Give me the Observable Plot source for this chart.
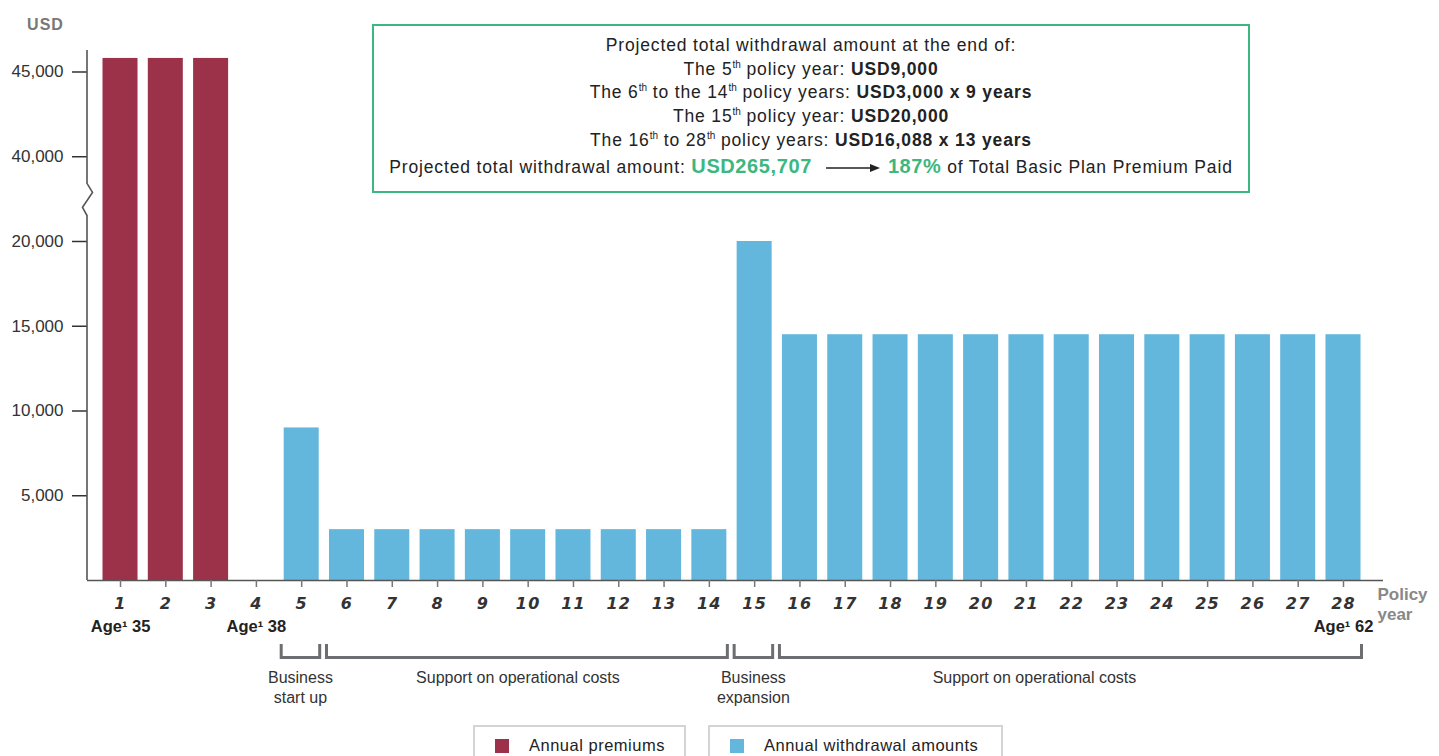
<!DOCTYPE html>
<html>
<head>
<meta charset="utf-8">
<script src="https://cdn.jsdelivr.net/npm/d3@7"></script>
<script src="https://cdn.jsdelivr.net/npm/@observablehq/plot@0.6"></script>
<style>
  html, body { margin: 0; padding: 0; background: #fff; }
  body { width: 1439px; height: 756px; position: relative; overflow: hidden; font-family: "Liberation Sans", Arial, sans-serif; color: #222; }
  #chart { position: absolute; left: 0; top: 0; }
  #box { position: absolute; left: 372px; top: 24px; width: 874px; height: 157px; border: 2px solid #3cb77f; text-align: center; font-size: 17.5px; letter-spacing: 0.85px; line-height: 23.7px; padding-top: 8px; box-sizing: content-box; white-space: nowrap; }
  #box b { font-weight: bold; }
  #box sup { font-size: 10px; vertical-align: 7px; line-height: 0; letter-spacing: 0; }
  #box .last { margin-top: 2px; }
  #box .g { color: #3cb77f; font-weight: bold; font-size: 20px; letter-spacing: 0.6px; }
  .legend { position: absolute; top: 725px; height: 40px; border: 2px solid #d4d4d4; box-sizing: border-box; font-size: 16.5px; letter-spacing: 0.5px; }
  .legend .sw { position: absolute; left: 20px; top: 12px; width: 14px; height: 14px; }
  .legend .lt { position: absolute; left: 54px; top: 9px; white-space: nowrap; }
</style>
</head>
<body>
<div id="chart"></div>
<div id="box"></div>
<div id="legend"></div>
<script>
// ---- data ----
const policyYears = [1,2,3,4,5,6,7,8,9,10,11,12,13,14,15,16,17,18,19,20,21,22,23,24,25,26,27,28];
const premiumYears = [1, 2, 3];
const premiumValues = [45800, 45800, 45800];
const withdrawalYears = [5,6,7,8,9,10,11,12,13,14,15,16,17,18,19,20,21,22,23,24,25,26,27,28];
const withdrawalValues = [9000, 3000,3000,3000,3000,3000,3000,3000,3000,3000, 20000,
  14500,14500,14500,14500,14500,14500,14500,14500,14500,14500,14500,14500,14500];
const yTickValues = [5000, 10000, 15000, 20000, 40000, 45000];
const yTickLabels = ["5,000", "10,000", "15,000", "20,000", "40,000", "45,000"];
const ageYears = [1, 4, 28];
const ageLabels = ["Age¹ 35", "Age¹ 38", "Age¹ 62"];
const bracketStart = [5, 6, 15, 16];
const bracketEnd = [5, 14, 15, 28];
const bracketLabels = ["Business\nstart up", "Support on operational costs", "Business\nexpansion", "Support on operational costs"];
const legendLabels = ["Annual premiums", "Annual withdrawal amounts"];
const colors = ["#9b324a", "#63b6dc"];

// axis break: values above the break are shifted down
const breakLow = 20000, breakHigh = 35000;
const yPos = v => v <= breakLow ? v : v - (breakHigh - breakLow);

const premData = premiumYears.map((y, i) => ({year: y, value: premiumValues[i]}));
const wdData = withdrawalYears.map((y, i) => ({year: y, value: withdrawalValues[i]}));
const ageData = ageYears.map((y, i) => ({year: y, label: ageLabels[i]}));

const W = 1439, H = 720;
const plot = Plot.plot({
  width: W, height: H,
  marginLeft: 87, marginRight: 56, marginTop: 50, marginBottom: 140,
  style: {fontFamily: "'Liberation Sans', Arial, sans-serif", overflow: "visible"},
  x: {type: "band", domain: policyYears, paddingInner: 0.227, paddingOuter: 0.4195, align: 0.408, round: false},
  y: {domain: [0, 31268]},
  marks: [
    Plot.barY(premData, {x: "year", y: d => yPos(d.value), fill: colors[0]}),
    Plot.barY(wdData, {x: "year", y: d => yPos(d.value), fill: colors[1]}),
    Plot.ruleY([0], {stroke: "#555", strokeWidth: 1.6}),
    Plot.axisY({ticks: yTickValues.map(yPos), tickFormat: (d, i) => yTickLabels[i], tickSize: 15, tickPadding: 9, fontSize: 17, stroke: "#333", color: "#333", strokeWidth: 1.5, label: null}),
    Plot.axisX({tickSize: 7, tickPadding: 10, fontSize: 16, stroke: "#777", strokeWidth: 1.5, label: null}),
    Plot.text(ageData, {x: "year", text: "label", frameAnchor: "bottom", dy: 51, fontSize: 16.5, fontWeight: "bold", fill: "#222"}),
    Plot.text(["Policy\nyear"], {frameAnchor: "bottom-right", dx: -6, dy: 39, textAnchor: "start", lineHeight: 1.15, fontSize: 17, fontWeight: "bold", fill: "#888"}),
    Plot.text(["USD"], {frameAnchor: "top-left", dx: -42, dy: -32, textAnchor: "middle", fontSize: 16, fontWeight: "bold", fill: "#777"})
  ]
});
document.getElementById("chart").appendChild(plot);

const svg = d3.select(plot);
svg.selectAll("[aria-label='x-axis tick label'] text")
  .style("font-family", "'DejaVu Sans', sans-serif").style("font-weight", "bold").style("font-style", "italic")
  .style("letter-spacing", "1.2px").attr("fill", "#333");
svg.selectAll("[aria-label='y-axis tick label'] text").attr("fill", "#333");
svg.selectAll("[aria-label='text'] text").filter(function() { return this.textContent === "USD"; }).style("letter-spacing", "1px");

const xs = plot.scale("x"), ys = plot.scale("y");
const bw = xs.bandwidth;
const center = v => xs.apply(v) + bw / 2;
const yBase = ys.apply(0);
const yTop = 50;
const axisX = 87;
// y axis line with break zig-zag
const zTop = ys.apply(23400), zBot = ys.apply(21500);
const zz = [[axisX, yTop], [axisX, zTop], [axisX + 5.5, zTop + 9], [axisX - 4.5, zTop + 24], [axisX, zBot], [axisX, yBase]];
svg.append("path").attr("d", d3.line()(zz)).attr("fill", "none").attr("stroke", "#555").attr("stroke-width", 1.6);

// brackets
const g = svg.append("g");
bracketStart.forEach((s, i) => {
  const x1 = center(s) - 20, x2 = center(bracketEnd[i]) + 18.5;
  const yt = yBase + 64, yb = yBase + 77.5;
  g.append("path").attr("d", `M${x1},${yt}V${yb}H${x2}V${yt}`).attr("fill", "none").attr("stroke", "#6d6e71").attr("stroke-width", 3);
  const lines = bracketLabels[i].split("\n");
  const cx = lines.length > 1 ? (x1 + x2) / 2 : (x1 + x2) / 2 - (i === 1 ? 9 : 36);
  lines.forEach((ln, j) => {
    g.append("text").attr("x", cx).attr("y", yBase + 98 + j * 19.5 + 5).attr("text-anchor", "middle")
      .attr("font-size", 16).attr("fill", "#333").text(ln);
  });
});

// annotation box
document.getElementById("box").innerHTML =
  `<div>Projected total withdrawal amount at the end of:</div>
   <div>The 5<sup>th</sup> policy year: <b>USD9,000</b></div>
   <div>The 6<sup>th</sup> to the 14<sup>th</sup> policy years: <b>USD3,000 x 9 years</b></div>
   <div>The 15<sup>th</sup> policy year: <b>USD20,000</b></div>
   <div>The 16<sup>th</sup> to 28<sup>th</sup> policy years: <b>USD16,088 x 13 years</b></div>
   <div class="last">Projected total withdrawal amount: <span class="g">USD265,707</span><svg width="56" height="12" style="vertical-align:middle;margin:0 6px 0 14px"><line x1="0" y1="6" x2="48" y2="6" stroke="#222" stroke-width="1.3"/><path d="M44,2 L54,6 L44,10 Z" fill="#222"/></svg><span class="g">187%</span> of Total Basic Plan Premium Paid</div>`;

// legend
const leg = document.getElementById("legend");
const legLeft = [473, 708], legWidth = [213, 295];
legendLabels.forEach((t, i) => {
  const d = document.createElement("div");
  d.className = "legend";
  d.style.left = legLeft[i] + "px";
  d.style.width = legWidth[i] + "px";
  d.innerHTML = `<div class="sw" style="background:${colors[i]}"></div><div class="lt">${t}</div>`;
  leg.appendChild(d);
});
</script>
</body>
</html>
